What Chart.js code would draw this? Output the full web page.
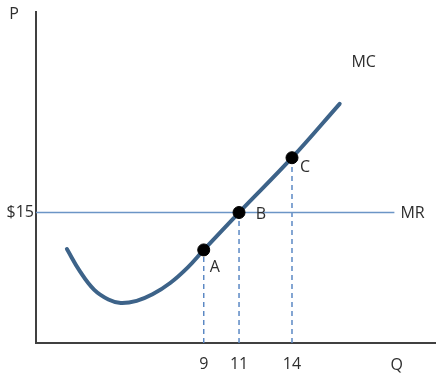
<!DOCTYPE html>
<html>
<head>
<meta charset="utf-8">
<script src="https://cdn.jsdelivr.net/npm/chart.js@4.4.1/dist/chart.umd.min.js"></script>
<style>
  html, body { margin: 0; padding: 0; background: #ffffff; }
  #wrap { width: 442px; height: 377px; }
</style>
</head>
<body>
<div id="wrap"><canvas id="mcChart" width="442" height="377"></canvas></div>
<script>
// values
const mcQuantity = [1.25, 2.0, 2.8, 3.6, 4.3, 5.2, 6.1, 7.1, 8.1, 9, 11, 14, 16.7];
const mcPrice = [10.8, 8.2, 6.1, 5.0, 4.6, 4.85, 5.6, 6.9, 8.7, 10.7, 15, 21.3, 27.5];
const pointQuantity = [9, 11, 14];
const pointPrice = [10.7, 15, 21.3];
const pointNames = ["A", "B", "C"];
const mrPrice = 15;
const mrRange = [-0.5, 19.8];
const qTicks = [9, 11, 14];
const pTicks = [15];

document.addEventListener("DOMContentLoaded", function () {
  const textColor = "#2e2e2e";
  const font = { family: "'Open Sans', 'Liberation Sans', sans-serif", size: 16 };

  const curve = mcQuantity.map((q, i) => ({ x: q, y: mcPrice[i] }));
  const points = pointQuantity.map((q, i) => ({ x: q, y: pointPrice[i] }));

  const dropLines = pointQuantity.map((q, i) => ({
    data: [{ x: q, y: 0 }, { x: q, y: pointPrice[i] }],
    borderColor: "#5b88c4",
    borderWidth: 1.5,
    borderDash: [5, 4],
    pointRadius: 0,
    order: 5,
  }));

  const labelPlugin = {
    id: "labels",
    afterDatasetsDraw(chart) {
      const ctx = chart.ctx;
      const xs = chart.scales.x;
      const ys = chart.scales.y;
      const area = chart.chartArea;
      ctx.save();
      ctx.fillStyle = textColor;
      ctx.font = font.size + "px " + font.family;
      ctx.textBaseline = "middle";
      ctx.textAlign = "center";

      const offsets = [[11, 18], [22, 2], [13, 10]];
      pointNames.forEach((name, i) => {
        const px = xs.getPixelForValue(pointQuantity[i]);
        const py = ys.getPixelForValue(pointPrice[i]);
        ctx.fillText(name, px + offsets[i][0], py + offsets[i][1]);
      });

      ctx.fillText("MC", xs.getPixelForValue(18.06), ys.getPixelForValue(32.3));
      ctx.textAlign = "left";
      ctx.fillText("MR", xs.getPixelForValue(mrRange[1]) + 6, ys.getPixelForValue(mrPrice) + 1);
      ctx.textAlign = "center";
      ctx.fillText("Q", xs.getPixelForValue(19.93), area.bottom + 22);
      ctx.fillText("P", area.left - 22, area.top + 3);
      ctx.restore();
    },
  };

  new Chart(document.getElementById("mcChart"), {
    type: "line",
    data: {
      datasets: [
        {
          data: points,
          showLine: false,
          pointRadius: 6,
          pointBackgroundColor: "#000000",
          pointBorderColor: "#000000",
          order: 1,
        },
        {
          data: curve,
          borderColor: "#3d6389",
          borderWidth: 4,
          tension: 0.4,
          pointRadius: 0,
          borderCapStyle: "round",
          order: 2,
        },
        {
          data: [{ x: mrRange[0], y: mrPrice }, { x: mrRange[1], y: mrPrice }],
          borderColor: "#6b95c6",
          borderWidth: 1.5,
          pointRadius: 0,
          order: 4,
        },
        ...dropLines,
      ],
    },
    options: {
      responsive: false,
      animation: false,
      layout: { padding: { top: 5, right: 5, left: 0, bottom: 0 } },
      plugins: {
        legend: { display: false },
        tooltip: { enabled: false },
      },
      scales: {
        x: {
          type: "linear",
          min: -0.5,
          max: 22.1,
          grid: { display: false, drawTicks: false },
          border: { color: "#404040", width: 2 },
          afterBuildTicks: (s) => { s.ticks = qTicks.map((v) => ({ value: v })); },
          afterFit: (s) => { s.height = 34; },
          ticks: { font: font, color: textColor, padding: 12, autoSkip: false, maxRotation: 0 },
        },
        y: {
          type: "linear",
          min: 0,
          max: 38.1,
          grid: { display: false, drawTicks: false },
          border: { color: "#404040", width: 2 },
          afterBuildTicks: (s) => { s.ticks = pTicks.map((v) => ({ value: v })); },
          afterFit: (s) => { s.width = 36; },
          ticks: { font: font, color: textColor, padding: 2, callback: (v) => "$" + v },
        },
      },
    },
    plugins: [labelPlugin],
  });
});
</script>
</body>
</html>
